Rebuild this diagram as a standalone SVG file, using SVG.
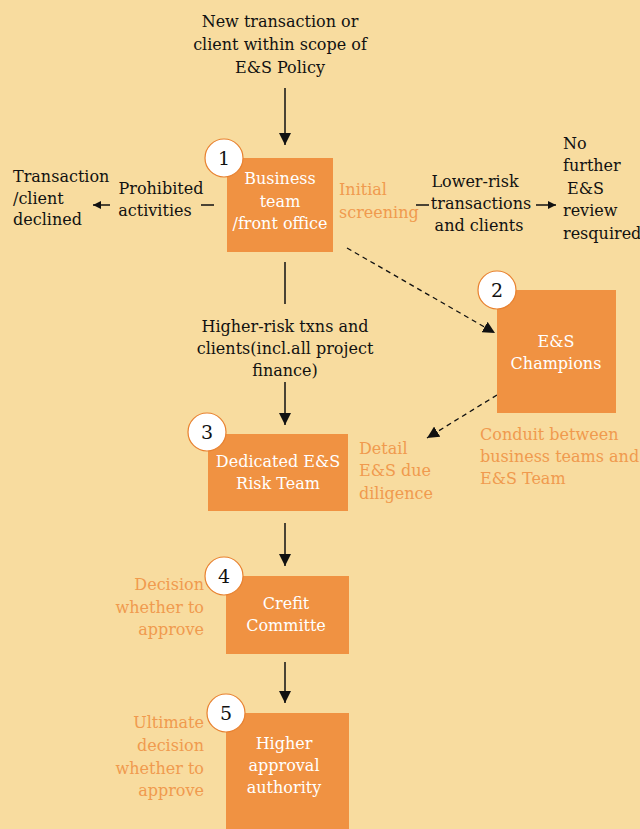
<svg xmlns="http://www.w3.org/2000/svg" width="640" height="829" viewBox="0 0 640 829">
<defs>
<style>
text{font-family:"DejaVu Serif","Liberation Serif",serif;font-size:16px}
.k{fill:#111}
.w{fill:#fff;text-anchor:middle}
.o{fill:#F09A4E}
.m{text-anchor:middle}
.e{text-anchor:end}
.box{fill:#F09242}
.c{fill:#fff;stroke:#E8812F;stroke-width:1.2}
.n{fill:#111;font-size:19px;text-anchor:middle}
.ln{stroke:#111;stroke-width:1.5;fill:none}
.ds{stroke:#111;stroke-width:1.3;fill:none;stroke-dasharray:5,4}
</style>
<marker id="ah" viewBox="0 0 10 10" refX="10" refY="5" markerWidth="8" markerHeight="8" orient="auto" markerUnits="userSpaceOnUse">
<path d="M0,0L10,5L0,10z" fill="#111"/>
</marker>
<marker id="ahb" viewBox="0 0 10 10" refX="10" refY="5" markerWidth="12" markerHeight="12" orient="auto" markerUnits="userSpaceOnUse">
<path d="M0,0L10,5L0,10z" fill="#111"/>
</marker>
</defs>
<rect width="640" height="829" fill="#F8DC9F"/>
<g id="connectors">
<line class="ln" x1="285" y1="88" x2="285" y2="145" marker-end="url(#ahb)"/>
<line class="ln" x1="201" y1="205" x2="214" y2="205"/>
<line class="ln" x1="110" y1="205" x2="93" y2="205" marker-end="url(#ah)"/>
<line class="ln" x1="416" y1="205" x2="429" y2="205"/>
<line class="ln" x1="536" y1="205" x2="556" y2="205" marker-end="url(#ah)"/>
<line class="ln" x1="285" y1="262" x2="285" y2="304"/>
<line class="ln" x1="285" y1="382" x2="285" y2="425" marker-end="url(#ahb)"/>
<line class="ds" x1="347" y1="248" x2="495" y2="333" marker-end="url(#ahb)"/>
<line class="ds" x1="497" y1="395" x2="427" y2="438" marker-end="url(#ahb)"/>
<line class="ln" x1="285" y1="523" x2="285" y2="566" marker-end="url(#ahb)"/>
<line class="ln" x1="285" y1="662" x2="285" y2="703" marker-end="url(#ahb)"/>
</g>
<g id="start">
<text class="k m" x="280" y="27">New transaction or</text>
<text class="k m" x="280" y="50">client within scope of</text>
<text class="k m" x="280" y="73">E&amp;S Policy</text>
</g>
<g id="node1">
<rect class="box" x="227" y="158" width="106" height="94"/>
<circle class="c" cx="224" cy="158" r="19"/>
<text class="n" x="224" y="165">1</text>
<text class="w" x="280" y="184">Business</text>
<text class="w" x="280" y="207">team</text>
<text class="w" x="280" y="229">/front office</text>
</g>
<g id="screening">
<text class="o" x="339" y="195">Initial</text>
<text class="o" x="339" y="218">screening</text>
</g>
<g id="lowerrisk">
<text class="k m" x="475" y="187">Lower-risk</text>
<text class="k m" x="481" y="209">transactions</text>
<text class="k m" x="479" y="231">and clients</text>
</g>
<g id="nofurther">
<text class="k" x="563" y="149">No</text>
<text class="k" x="563" y="171">further</text>
<text class="k" x="567" y="194">E&amp;S</text>
<text class="k" x="563" y="216">review</text>
<text class="k" x="563" y="239">resquired</text>
</g>
<g id="prohibited">
<text class="k m" x="161" y="194">Prohibited</text>
<text class="k m" x="155" y="216">activities</text>
</g>
<g id="declined">
<text class="k" x="13" y="182">Transaction</text>
<text class="k" x="13" y="204">/client</text>
<text class="k" x="13" y="225">declined</text>
</g>
<g id="higherrisk">
<text class="k m" x="285" y="332">Higher-risk txns and</text>
<text class="k m" x="285" y="354">clients(incl.all project</text>
<text class="k m" x="285" y="376">finance)</text>
</g>
<g id="node2">
<rect class="box" x="497" y="290" width="119" height="123"/>
<circle class="c" cx="497" cy="290" r="19"/>
<text class="n" x="497" y="297">2</text>
<text class="w" x="556" y="347">E&amp;S</text>
<text class="w" x="556" y="369">Champions</text>
</g>
<g id="conduit">
<text class="o" x="480" y="440">Conduit between</text>
<text class="o" x="480" y="462">business teams and</text>
<text class="o" x="480" y="484">E&amp;S Team</text>
</g>
<g id="node3">
<rect class="box" x="208" y="434" width="140" height="77"/>
<circle class="c" cx="207" cy="432" r="19"/>
<text class="n" x="207" y="439">3</text>
<text class="w" x="278" y="467">Dedicated E&amp;S</text>
<text class="w" x="278" y="489">Risk Team</text>
</g>
<g id="detail">
<text class="o" x="359" y="454">Detail</text>
<text class="o" x="359" y="476">E&amp;S due</text>
<text class="o" x="359" y="499">diligence</text>
</g>
<g id="node4">
<rect class="box" x="226" y="576" width="123" height="78"/>
<circle class="c" cx="224" cy="576" r="19"/>
<text class="n" x="224" y="583">4</text>
<text class="w" x="286" y="609">Crefit</text>
<text class="w" x="286" y="631">Committe</text>
</g>
<g id="decision">
<text class="o e" x="204" y="590">Decision</text>
<text class="o e" x="204" y="613">whether to</text>
<text class="o e" x="204" y="635">approve</text>
</g>
<g id="node5">
<rect class="box" x="226" y="713" width="123" height="116"/>
<circle class="c" cx="226" cy="713" r="19"/>
<text class="n" x="226" y="720">5</text>
<text class="w" x="284" y="749">Higher</text>
<text class="w" x="284" y="771">approval</text>
<text class="w" x="284" y="793">authority</text>
</g>
<g id="ultimate">
<text class="o e" x="204" y="728">Ultimate</text>
<text class="o e" x="204" y="751">decision</text>
<text class="o e" x="204" y="774">whether to</text>
<text class="o e" x="204" y="796">approve</text>
</g>
</svg>
